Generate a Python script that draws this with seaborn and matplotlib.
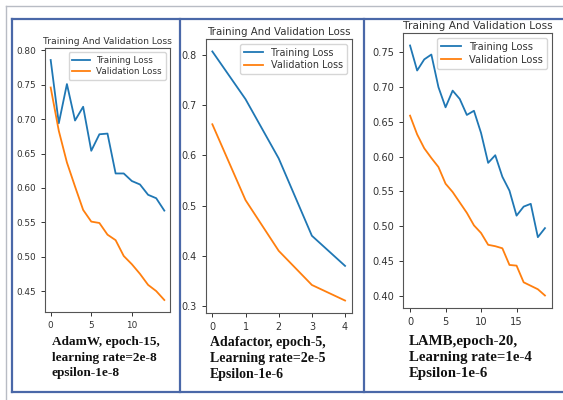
import numpy as np
import pandas as pd
import seaborn as sns
import matplotlib
matplotlib.use("Agg")
import matplotlib.pyplot as plt
from matplotlib.lines import Line2D

# ---- data ----
adamw_train = [0.786, 0.694, 0.751, 0.698, 0.718, 0.654, 0.678, 0.679, 0.621, 0.621,
               0.610, 0.605, 0.590, 0.585, 0.567]
adamw_val = [0.746, 0.683, 0.637, 0.602, 0.568, 0.551, 0.549, 0.532, 0.524, 0.501,
             0.489, 0.475, 0.459, 0.450, 0.437]

adafactor_train = [0.807, 0.712, 0.594, 0.440, 0.380]
adafactor_val = [0.662, 0.511, 0.410, 0.342, 0.311]

lamb_train = [0.760, 0.724, 0.740, 0.747, 0.700, 0.671, 0.695, 0.683, 0.660, 0.666,
              0.634, 0.591, 0.602, 0.571, 0.551, 0.515, 0.528, 0.532, 0.484, 0.497]
lamb_val = [0.659, 0.632, 0.612, 0.598, 0.585, 0.561, 0.549, 0.534, 0.519, 0.501,
            0.490, 0.473, 0.471, 0.468, 0.444, 0.443, 0.419, 0.414, 0.409, 0.400]

series_labels = ["Training Loss", "Validation Loss"]
plot_title = "Training And Validation Loss"
captions = [
    "AdamW, epoch-15,\nlearning rate=2e-8\nepsilon-1e-8",
    "Adafactor, epoch-5,\nLearning rate=2e-5\nEpsilon-1e-6",
    "LAMB,epoch-20,\nLearning rate=1e-4\nEpsilon-1e-6",
]
xticks_sets = [[0, 5, 10], [0, 1, 2, 3, 4], [0, 5, 10, 15]]

# ---- figure ----
W, H = 563, 400
fig = plt.figure(figsize=(W / 100, H / 100), dpi=100)
fig.patch.set_facecolor("white")

def fx(px):
    return px / W

def fy(py):
    return 1 - py / H

# outer gray frame
fig.add_artist(Line2D([fx(6), fx(6)], [fy(6), 0], color="#b8bcc4", lw=1.0, transform=fig.transFigure))
fig.add_artist(Line2D([fx(6), 1], [fy(6), fy(6)], color="#b8bcc4", lw=1.0, transform=fig.transFigure))

# blue panel borders
blue = "#4a68a8"
for xs, ys in [([12, 12], [19, 392]), ([12, 563], [19, 19]), ([12, 563], [392, 392]),
               ([179.5, 179.5], [19, 392]), ([363.5, 363.5], [19, 392])]:
    fig.add_artist(Line2D([fx(x) for x in xs], [fy(y) for y in ys], color=blue, lw=1.6,
                          transform=fig.transFigure))

# axes rectangles (left, top, right, bottom) in pixels
rects = [(45, 48, 170, 312), (205.7, 39, 351.7, 313), (403.3, 33, 551.7, 308)]
datasets = [(adamw_train, adamw_val), (adafactor_train, adafactor_val), (lamb_train, lamb_val)]
title_sizes = [6.6, 7.4, 7.7]
tick_sizes = [6.4, 6.9, 7.1]
legend_sizes = [6.3, 6.9, 7.1]
cap_pos = [(52, 336), (210, 336), (409, 335)]
cap_sizes = [9.5, 10.0, 10.7]
cap_spacing = [1.39, 1.32, 1.31]

for i, ((l, t, r, b), (tr, va)) in enumerate(zip(rects, datasets)):
    ax = fig.add_axes([fx(l), fy(b), (r - l) / W, (b - t) / H])
    n = len(tr)
    df = pd.DataFrame({
        "epoch": list(range(n)) * 2,
        "loss": list(tr) + list(va),
        "series": [series_labels[0]] * n + [series_labels[1]] * n,
    })
    sns.lineplot(data=df, x="epoch", y="loss", hue="series", ax=ax,
                 palette=["#1f77b4", "#ff7f0e"], linewidth=1.3)
    ax.set_xlabel("")
    ax.set_ylabel("")
    ax.set_xticks(xticks_sets[i])
    ax.tick_params(labelsize=tick_sizes[i], length=3, width=0.7, colors="#333333")
    for s in ax.spines.values():
        s.set_color("#555555")
        s.set_linewidth(0.8)
    ax.set_title(plot_title, fontsize=title_sizes[i], color="#333333", pad=3)
    if i == 1:
        ax.yaxis.set_major_formatter(matplotlib.ticker.FormatStrFormatter("%.1f"))
    else:
        ax.yaxis.set_major_formatter(matplotlib.ticker.FormatStrFormatter("%.2f"))
    leg = ax.legend(loc="upper right", fontsize=legend_sizes[i], frameon=True,
                    handlelength=2.0, borderpad=0.4, labelspacing=0.3)
    leg.get_frame().set_edgecolor("#cccccc")
    for txt in leg.get_texts():
        txt.set_color("#333333")
    cx, cy = cap_pos[i]
    fig.text(fx(cx), fy(cy), captions[i], ha="left", va="top", fontsize=cap_sizes[i],
             family="Liberation Serif", fontweight="bold", linespacing=cap_spacing[i],
             color="#111111")

fig.savefig("out.png", dpi=100)
